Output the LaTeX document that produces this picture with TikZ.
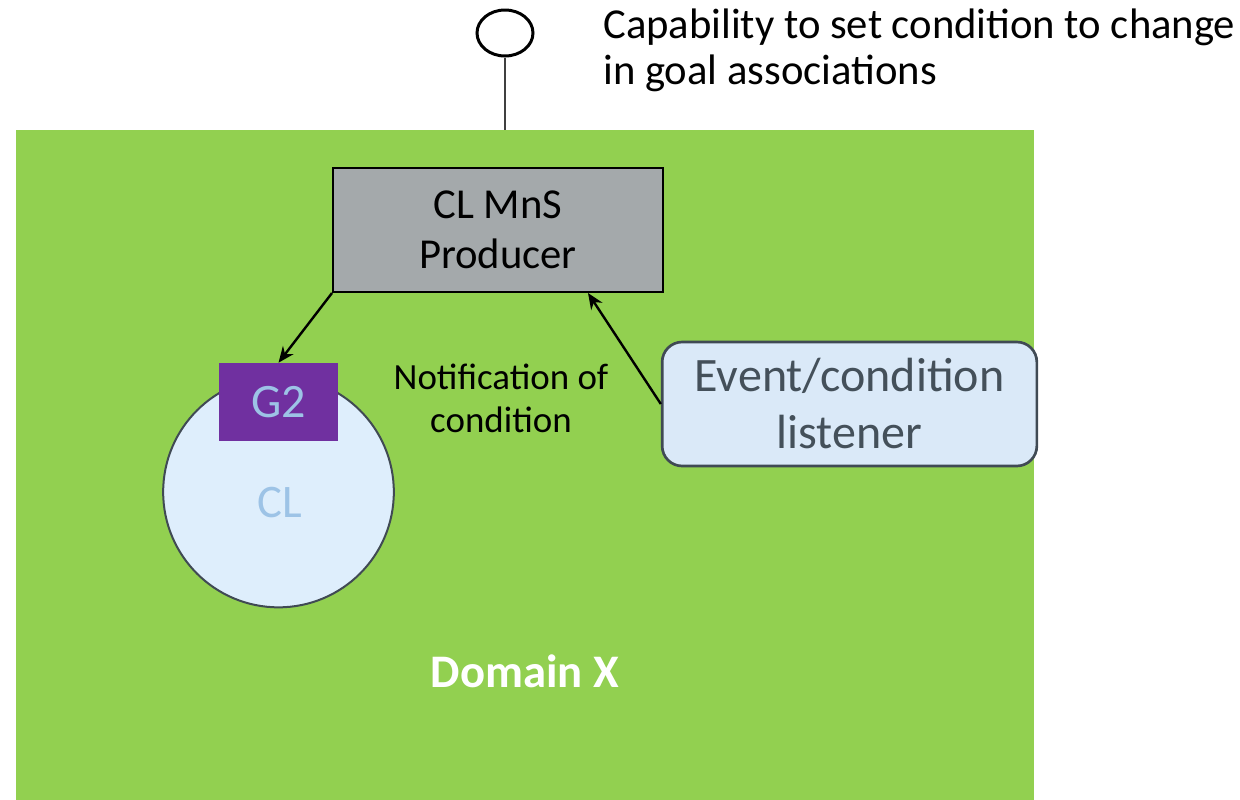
\documentclass[tikz,border=0pt]{standalone}
\usepackage{fontspec}
\setmainfont{Carlito}
\usetikzlibrary{arrows.meta,shapes.geometric,calc}
\definecolor{domgreen}{HTML}{92D050}
\definecolor{prodgray}{HTML}{A4A9AB}
\definecolor{goalpurple}{HTML}{7030A0}
\definecolor{paleblue}{HTML}{9DC3E6}
\definecolor{clfill}{HTML}{DEEEFC}
\definecolor{lsfill}{HTML}{DAE9F8}
\definecolor{slate}{HTML}{404A54}
\definecolor{slatetext}{HTML}{44505A}
\tikzset{
  conn/.style={draw=black, line width=1.8pt, -{Stealth[length=12pt,width=10pt]}},
  prodbox/.style={draw=black, line width=1.5pt, fill=prodgray, minimum width=247.5pt, minimum height=93pt, align=center, font=\fontsize{32}{37.5}\selectfont},
  goalbox/.style={fill=goalpurple, text=paleblue, minimum width=89pt, minimum height=58.5pt, font=\fontsize{36}{40}\selectfont},
  clcircle/.style={ellipse, draw=slate, line width=1.5pt, fill=clfill, minimum width=173pt, minimum height=173pt},
  listenbox/.style={draw=slate, line width=2pt, fill=lsfill, rounded corners=15pt, minimum width=281pt, minimum height=93pt, align=center, text=slatetext, font=\fontsize{36}{42.75}\selectfont},
}
\begin{document}
\begin{tikzpicture}[x=0.75pt, y=-0.75pt]
\useasboundingbox (0,0) rectangle (1240,800);
% domain background
\node[fill=domgreen, minimum width=763pt, minimum height=502.5pt, inner sep=0, anchor=north west] (dom) at (16,130) {};
\node[text=white, font=\fontsize{35}{42}\selectfont\bfseries] (domlbl) at (525,671) {Domain X};
% exposed capability (lollipop)
\node[ellipse, draw=black, line width=2.25pt, fill=white, minimum width=42pt, minimum height=34.5pt, inner sep=0] (cap) at (505,33) {};
\draw[line width=1.5pt, draw=black!75] (cap.south) -- (cap.south |- dom.north);
\node[anchor=west, inner sep=0, align=left, font=\fontsize{32}{34.5}\selectfont] (captext) at (603,50) {Capability to set condition to change\\in goal associations};
% producer, closed loop and listener
\node[prodbox] (prod) at (498,230) {CL MnS\\Producer};
\node[clcircle] (cl) at (278.5,492) {};
\node[text=paleblue, font=\fontsize{35}{42}\selectfont] (cltext) at (280,503) {CL};
\node[goalbox] (g2) at (278.5,402) {G2};
\node[listenbox] (listen) at (849.5,404) {Event/condition\\listener};
\node[align=center, font=\fontsize{27.7}{32.25}\selectfont] (notif) at (501,398) {Notification of\\condition};
% connectors
\draw[conn] (prod.south west) -- (g2.north);
\coordinate (prodin) at ($(prod.south east)+(-76,0)$);
\draw[conn] (listen.west) -- (prodin);
\end{tikzpicture}
\end{document}
